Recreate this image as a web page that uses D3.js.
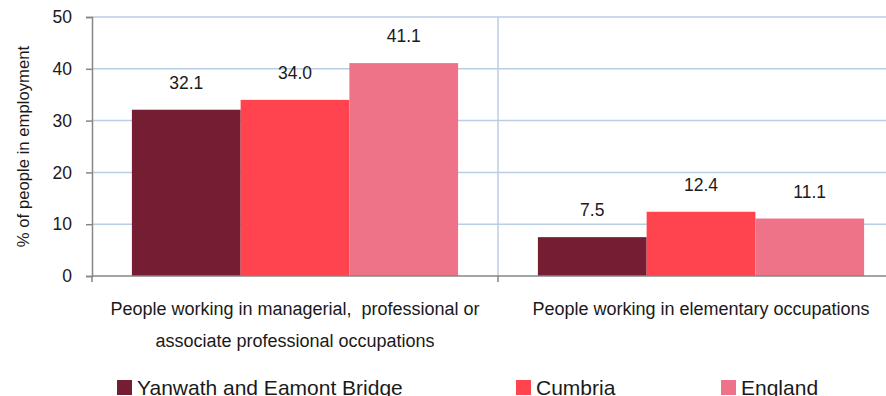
<!DOCTYPE html>
<html>
<head>
<meta charset="utf-8">
<script src="https://cdn.jsdelivr.net/npm/d3@7"></script>
<style>
  html, body { margin: 0; padding: 0; background: #fff; overflow: hidden; }
  svg { display: block; font-family: "Liberation Sans", Arial, sans-serif; }
</style>
</head>
<body>
<svg id="chart" width="886" height="396"></svg>
<script>
// Occupation groups (category axis); each label is split into its wrapped lines
const categories = ["managerial", "elementary"];
const categoryLines = [
  ["People working in managerial,  professional or", "associate professional occupations"],
  ["People working in elementary occupations"]
];
const series = ["Yanwath and Eamont Bridge", "Cumbria", "England"];
const colors = ["#741d33", "#ff434f", "#ee7389"];
// % of people in employment, one array per area
const yanwath = [32.1, 7.5];
const cumbria = [34.0, 12.4];
const england = [41.1, 11.1];
const yTicks = [0, 10, 20, 30, 40, 50];

const values = [yanwath, cumbria, england];

const svg = d3.select("#chart");
const plotLeft = 92, plotRight = 904, plotTop = 17, plotBottom = 276;
const ink = "#1a1a1a";

const x0 = d3.scaleBand().domain(categories).range([plotLeft, plotRight]).paddingInner(0).paddingOuter(0);
const x1 = d3.scaleBand().domain(series).range([0, x0.bandwidth()]).paddingInner(0).paddingOuter(0.367);
const y = d3.scaleLinear().domain([0, 50]).range([plotBottom, plotTop]);

// horizontal gridlines
svg.append("g")
  .selectAll("line")
  .data(yTicks.filter(d => d > 0))
  .join("line")
  .attr("x1", plotLeft).attr("x2", plotRight)
  .attr("y1", d => y(d)).attr("y2", d => y(d))
  .attr("stroke", "#b9cde5").attr("stroke-width", 1.5);

// vertical gridlines at category boundaries
svg.append("g")
  .selectAll("line")
  .data(categories.slice(1))
  .join("line")
  .attr("x1", d => x0(d)).attr("x2", d => x0(d))
  .attr("y1", plotTop).attr("y2", plotBottom)
  .attr("stroke", "#b9cde5").attr("stroke-width", 1.5);

// bars
const groups = svg.append("g")
  .selectAll("g")
  .data(series)
  .join("g")
  .attr("fill", (d, i) => colors[i]);

groups.selectAll("rect")
  .data((s, si) => categories.map((c, ci) => ({ s, c, v: values[si][ci] })))
  .join("rect")
  .attr("x", d => x0(d.c) + x1(d.s))
  .attr("width", x1.bandwidth())
  .attr("y", d => y(d.v))
  .attr("height", d => y(0) - y(d.v));

// value labels
groups.selectAll("text")
  .data((s, si) => categories.map((c, ci) => ({ s, c, v: values[si][ci] })))
  .join("text")
  .attr("x", d => x0(d.c) + x1(d.s) + x1.bandwidth() / 2)
  .attr("y", d => y(d.v) - 21)
  .attr("text-anchor", "middle")
  .attr("fill", ink)
  .attr("font-size", 17.5)
  .text(d => d.v.toFixed(1));

// y axis
const yAxis = svg.append("g")
  .attr("transform", `translate(${plotLeft},0)`)
  .call(d3.axisLeft(y).tickValues(yTicks).tickSize(6).tickPadding(14));
yAxis.select(".domain").attr("stroke", "#868686").attr("stroke-width", 1.5);
yAxis.selectAll(".tick line").attr("stroke", "#868686").attr("stroke-width", 1.5);
yAxis.selectAll(".tick text").attr("font-size", 17.5).attr("fill", ink)
  .attr("font-family", "Liberation Sans, Arial, sans-serif");

// x axis line with ticks at band edges
svg.append("line")
  .attr("x1", plotLeft).attr("x2", plotRight)
  .attr("y1", plotBottom).attr("y2", plotBottom)
  .attr("stroke", "#868686").attr("stroke-width", 1.5);
svg.append("g")
  .selectAll("line")
  .data(categories)
  .join("line")
  .attr("x1", d => x0(d)).attr("x2", d => x0(d))
  .attr("y1", plotBottom).attr("y2", plotBottom + 6)
  .attr("stroke", "#868686").attr("stroke-width", 1.5);

// category labels, one text per wrapped line
svg.append("g")
  .selectAll("g")
  .data(categories)
  .join("g")
  .each(function (c, i) {
    d3.select(this).selectAll("text")
      .data(categoryLines[i])
      .join("text")
      .attr("x", x0(c) + x0.bandwidth() / 2)
      .attr("y", (d, li) => 315 + li * 32)
      .attr("text-anchor", "middle")
      .attr("font-size", 18)
      .attr("fill", ink)
      .attr("xml:space", "preserve")
      .text(d => d);
  });

// y axis title
svg.append("text")
  .attr("transform", `translate(29,${(plotTop + plotBottom) / 2}) rotate(-90)`)
  .attr("text-anchor", "middle")
  .attr("font-size", 16.7)
  .attr("fill", ink)
  .text("% of people in employment");

// legend
const legendX = [117, 516, 721];
const legend = svg.append("g")
  .selectAll("g")
  .data(series)
  .join("g")
  .attr("transform", (d, i) => `translate(${legendX[i]},380)`);
legend.append("rect")
  .attr("width", 15).attr("height", 15)
  .attr("fill", (d, i) => colors[i]);
legend.append("text")
  .attr("x", 20).attr("y", 14.5)
  .attr("font-size", 21)
  .attr("fill", ink)
  .text(d => d);
</script>
</body>
</html>
